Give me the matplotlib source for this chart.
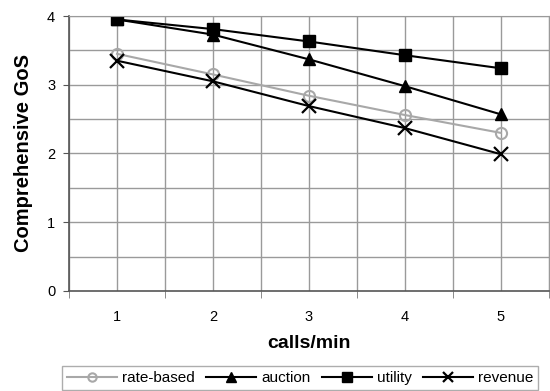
import numpy as np
import matplotlib
matplotlib.use("Agg")
import matplotlib.pyplot as plt

# ── values ───────────────────────────────────────────────────────────────────
calls = [1, 2, 3, 4, 5]
rate_based = [3.45, 3.15, 2.84, 2.56, 2.30]
auction    = [3.95, 3.73, 3.37, 2.98, 2.57]
utility    = [3.95, 3.81, 3.63, 3.43, 3.24]
revenue    = [3.35, 3.05, 2.69, 2.37, 1.99]

plt.rcParams["font.family"] = ["Liberation Sans", "DejaVu Sans"]

fig = plt.figure(figsize=(5.5, 3.91), dpi=100)
ax = fig.add_axes([0.1255, 0.256, 0.872, 0.703])

ax.plot(calls, rate_based, color="#a8a8a8", lw=1.5, marker="o", ms=8,
        mfc="none", mec="#a8a8a8", mew=1.5, label="rate-based")
ax.plot(calls, auction, color="black", lw=1.5, marker="^", ms=9,
        label="auction")
ax.plot(calls, utility, color="black", lw=1.5, marker="s", ms=9,
        label="utility")
ax.plot(calls, revenue, color="black", lw=1.5, marker="x", ms=10, mew=1.6,
        label="revenue")

ax.set_xlim(0.5, 5.5)
ax.set_ylim(0, 4)
ax.set_xticks(calls)
ax.set_xticks(np.arange(0.5, 5.6, 1.0), minor=True)
ax.set_yticks([0, 1, 2, 3, 4])
ax.set_yticks(np.arange(0.5, 4, 1.0), minor=True)

grid_col = "#9a9a9a"
for v in np.arange(0.5, 5.51, 0.5):
    ax.axvline(v, color=grid_col, lw=1, zorder=0)
for v in np.arange(0.5, 4.01, 0.5):
    ax.axhline(v, color=grid_col, lw=1, zorder=0)

ax.tick_params(axis="x", which="major", length=0, pad=14, labelsize=10.5)
ax.tick_params(axis="x", which="minor", length=5, color="#777777")
ax.tick_params(axis="y", which="major", length=4, color="#555555", labelsize=10.5, pad=6)
ax.tick_params(axis="y", which="minor", length=0)

for side in ["top", "right"]:
    ax.spines[side].set_color(grid_col)
for side in ["left", "bottom"]:
    ax.spines[side].set_color("#555555")
    ax.spines[side].set_linewidth(1.2)

ax.set_xlabel("calls/min", fontsize=14, fontweight="bold", labelpad=8)
ax.set_ylabel("Comprehensive GoS", fontsize=14.5, fontweight="bold", labelpad=10)

leg = fig.legend(loc="upper left", bbox_to_anchor=(0.113, 0.063), ncol=4,
                 fontsize=11, handlelength=3.3, handletextpad=0.3,
                 columnspacing=0.75, markerscale=0.75, frameon=True,
                 fancybox=False, borderpad=0.3, borderaxespad=0)
leg.get_frame().set_edgecolor("#999999")
leg.get_frame().set_linewidth(1)

fig.savefig("out.png", dpi=100)
